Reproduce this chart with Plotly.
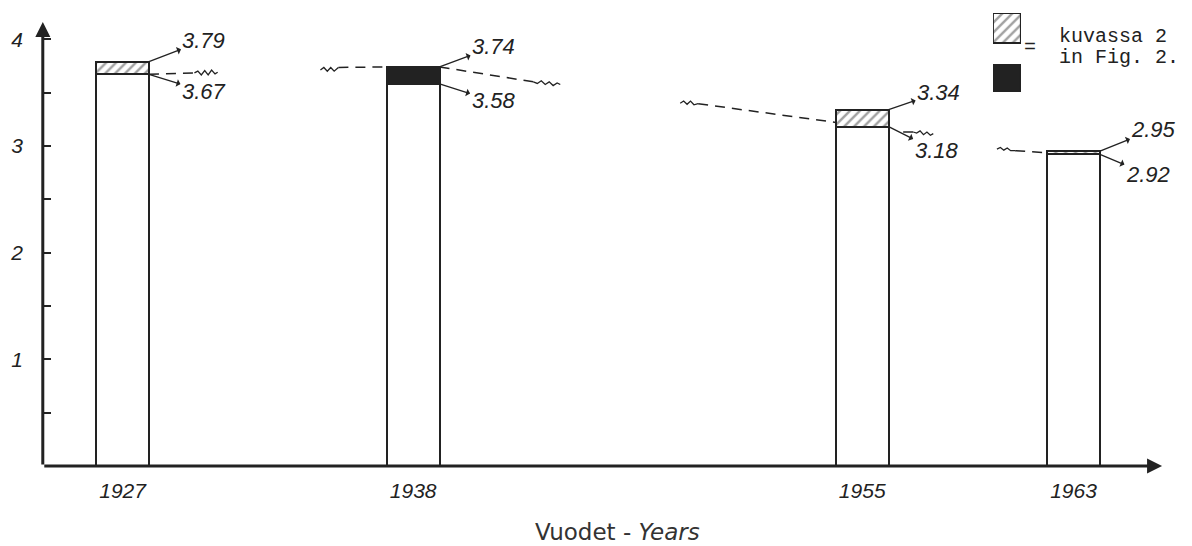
import plotly.graph_objects as go

# ---- data ----
years = [1927, 1938, 1955, 1963]
lower = [3.67, 3.58, 3.18, 2.92]
upper = [3.79, 3.74, 3.34, 2.95]
top_fill = ["hatch", "solid", "hatch", "hatch"]
year_labels = ["1927", "1938", "1955", "1963"]
y_ticks = [0.5, 1, 1.5, 2, 2.5, 3, 3.5, 4]
y_ticktext = ["", "1", "", "2", "", "3", "", "4"]

# trend fragments (dashed) and wavy breaks
dash_segments = [
    ([1928.0, 1929.72], [3.67, 3.684]),
    ([1935.17, 1937.0], [3.735, 3.74]),
    ([1939.0, 1942.55], [3.74, 3.60]),
    ([1948.79, 1954.0], [3.395, 3.22]),
    ([1956.55, 1956.93], [3.13, 3.13]),
    ([1960.79, 1962.0], [2.955, 2.935]),
]
wave_segments = [
    ([1929.72, 1929.85, 1929.98, 1930.11, 1930.24, 1930.37, 1930.5, 1930.6],
     [3.684, 3.70, 3.665, 3.705, 3.665, 3.71, 3.675, 3.69]),
    ([1934.49, 1934.62, 1934.75, 1934.88, 1935.01, 1935.17],
     [3.71, 3.735, 3.70, 3.735, 3.70, 3.735]),
    ([1942.55, 1942.7, 1942.85, 1943.0, 1943.15, 1943.3, 1943.45, 1943.57],
     [3.60, 3.585, 3.61, 3.575, 3.60, 3.565, 3.59, 3.575]),
    ([1948.11, 1948.24, 1948.37, 1948.5, 1948.63, 1948.79],
     [3.40, 3.42, 3.39, 3.42, 3.385, 3.395]),
    ([1956.93, 1957.06, 1957.19, 1957.32, 1957.45, 1957.58, 1957.69],
     [3.13, 3.12, 3.14, 3.105, 3.13, 3.10, 3.115]),
    ([1960.1, 1960.23, 1960.36, 1960.49, 1960.62, 1960.79],
     [2.97, 2.985, 2.96, 2.98, 2.955, 2.955]),
]

# label offsets (pixels) from bar corner to label centre
upper_off = [(55, -21), (54, -20), (50, -17), (54, -22)]
lower_off = [(55, 17), (54, 17), (48, 24), (48, 20)]

INK = "#222222"
LABEL_FONT = dict(family="Liberation Sans", size=22, color=INK, style="italic")

fig = go.Figure()

# lower (white) bars
fig.add_trace(go.Bar(
    x=years, y=lower, width=2,
    marker=dict(color="white", line=dict(color=INK, width=2)),
    showlegend=False, hoverinfo="skip",
))
# upper segments
diff = [round(u - l, 4) for u, l in zip(upper, lower)]
fig.add_trace(go.Bar(
    x=years, y=diff, base=lower, width=2,
    marker=dict(
        color=["white" if f == "hatch" else INK for f in top_fill],
        line=dict(color=INK, width=2),
        pattern=dict(shape=["/" if f == "hatch" else "" for f in top_fill],
                     fgcolor="#000000", size=7, solidity=0.35, fillmode="overlay"),
    ),
    showlegend=False, hoverinfo="skip",
))

for xs, ys in dash_segments:
    fig.add_trace(go.Scatter(x=xs, y=ys, mode="lines",
                             line=dict(color=INK, width=1.5, dash="10px,7px"),
                             showlegend=False, hoverinfo="skip"))
for xs, ys in wave_segments:
    fig.add_trace(go.Scatter(x=xs, y=ys, mode="lines",
                             line=dict(color=INK, width=1.3),
                             showlegend=False, hoverinfo="skip"))

# legend key (hatched + solid squares)
fig.add_trace(go.Bar(
    x=[0.5, 0.5], y=[30, 27], base=[49, 0], width=1,
    xaxis="x2", yaxis="y2",
    marker=dict(color=["white", INK], line=dict(color=INK, width=2),
                pattern=dict(shape=["/", ""], fgcolor="#000000", size=7,
                             solidity=0.35, fillmode="overlay")),
    showlegend=False, hoverinfo="skip",
))

annotations = []
# value labels with arrows
for i, yr in enumerate(years):
    for val, off in ((upper[i], upper_off[i]), (lower[i], lower_off[i])):
        annotations.append(dict(
            x=yr + 1, y=val, xref="x", yref="y",
            text=f"{val:.2f}", font=LABEL_FONT,
            showarrow=True, arrowside="start", arrowhead=2, arrowsize=1.6,
            arrowwidth=1.3, arrowcolor=INK, ax=off[0], ay=off[1],
            standoff=0, startstandoff=0,
        ))

# axes drawn as arrows
annotations.append(dict(x=1966.35, y=0, ax=1923.98, ay=0, axref="x", ayref="y",
                        xref="x", yref="y", text="", showarrow=True,
                        arrowhead=2, arrowsize=1, arrowwidth=3, arrowcolor=INK))
annotations.append(dict(x=1923.98, y=4.16, ax=1923.98, ay=0, axref="x", ayref="y",
                        xref="x", yref="y", text="", showarrow=True,
                        arrowhead=2, arrowsize=1, arrowwidth=3, arrowcolor=INK))

# legend texts
annotations.append(dict(x=0.879, y=0.914, xref="paper", yref="paper", text="=",
                        showarrow=False, xanchor="center", yanchor="middle",
                        font=dict(family="Liberation Mono", size=20, color=INK)))
annotations.append(dict(x=0.903, y=0.937, xref="paper", yref="paper", text="kuvassa 2",
                        showarrow=False, xanchor="left", yanchor="middle",
                        font=dict(family="Liberation Mono", size=20, color=INK)))
annotations.append(dict(x=0.903, y=0.893, xref="paper", yref="paper", text="in Fig. 2.",
                        showarrow=False, xanchor="left", yanchor="middle",
                        font=dict(family="Liberation Mono", size=20, color=INK)))

# x-axis title
annotations.append(dict(x=0.5116, y=-0.144, xref="paper", yref="paper",
                        text="Vuodet - <i>Years</i>", showarrow=False,
                        xanchor="center", yanchor="middle",
                        font=dict(family="DejaVu Sans", size=23, color="#333333")))

fig.update_layout(
    width=1192, height=546,
    margin=dict(l=42, r=26, t=8, b=80, autoexpand=False),
    paper_bgcolor="white", plot_bgcolor="white",
    barmode="overlay", bargap=0,
    annotations=annotations,
    xaxis=dict(range=[1923.95, 1966.5], tickvals=years, ticktext=year_labels,
               ticks="", showline=False, showgrid=False, zeroline=False,
               automargin=False,
               tickfont=dict(family="Liberation Sans", size=21, color=INK, style="italic"),
               ticklabelstandoff=10, fixedrange=True),
    yaxis=dict(range=[0, 4.292], tickvals=y_ticks, ticktext=y_ticktext,
               ticks="inside", ticklen=9, tickwidth=2, tickcolor=INK,
               showline=False, showgrid=False, zeroline=False,
               automargin=False,
               tickfont=dict(family="Liberation Sans", size=21, color=INK, style="italic"),
               ticklabelstandoff=18, fixedrange=True),
    xaxis2=dict(domain=[0.846, 0.871], range=[0, 1], visible=False, fixedrange=True),
    yaxis2=dict(domain=[0.8166, 0.989], range=[0, 79], visible=False, fixedrange=True,
                anchor="x2"),
)

fig.write_html("out.html", config={"displayModeBar": False},
               post_script="document.body.style.margin='0';")
